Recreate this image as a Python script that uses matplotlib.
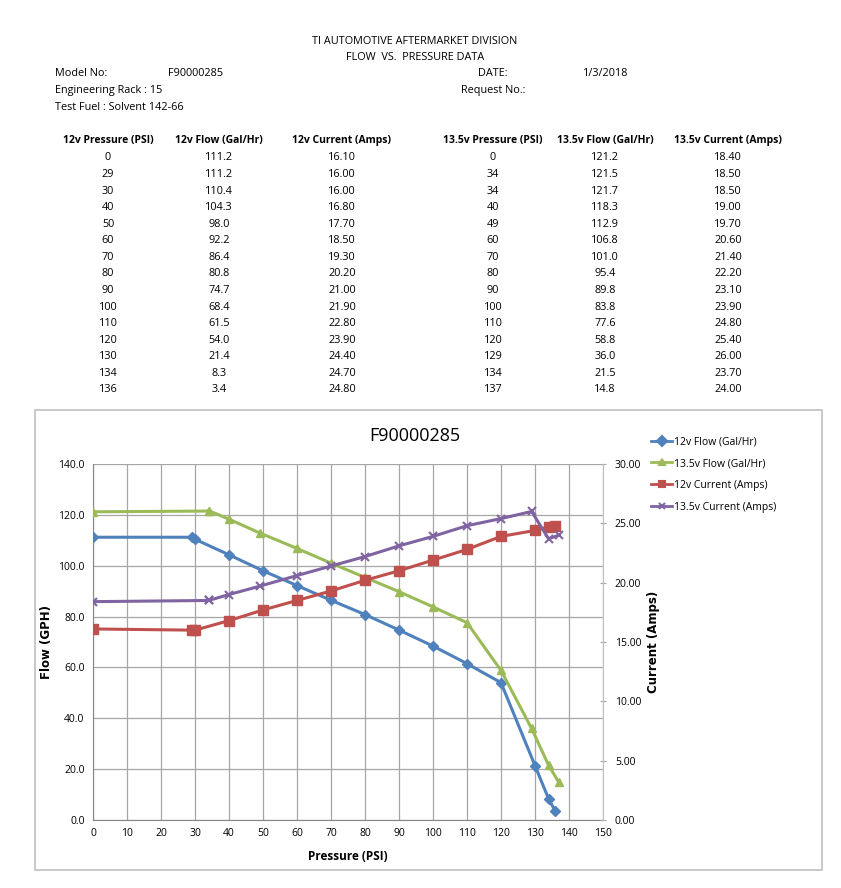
import matplotlib
matplotlib.use("Agg")
import matplotlib.pyplot as plt
from matplotlib.patches import Rectangle
from matplotlib.lines import Line2D

W, H = 841, 888
FONT = ["Open Sans", "DejaVu Sans"]
plt.rcParams['font.family'] = FONT

# ---------------- data ----------------
p12 = [0, 29, 30, 40, 50, 60, 70, 80, 90, 100, 110, 120, 130, 134, 136]
flow12 = [111.2, 111.2, 110.4, 104.3, 98.0, 92.2, 86.4, 80.8, 74.7, 68.4, 61.5, 54.0, 21.4, 8.3, 3.4]
cur12 = [16.10, 16.00, 16.00, 16.80, 17.70, 18.50, 19.30, 20.20, 21.00, 21.90, 22.80, 23.90, 24.40, 24.70, 24.80]
p135 = [0, 34, 34, 40, 49, 60, 70, 80, 90, 100, 110, 120, 129, 134, 137]
flow135 = [121.2, 121.5, 121.7, 118.3, 112.9, 106.8, 101.0, 95.4, 89.8, 83.8, 77.6, 58.8, 36.0, 21.5, 14.8]
cur135 = [18.40, 18.50, 18.50, 19.00, 19.70, 20.60, 21.40, 22.20, 23.10, 23.90, 24.80, 25.40, 26.00, 23.70, 24.00]

col_headers = ["12v Pressure (PSI)", "12v Flow (Gal/Hr)", "12v Current (Amps)",
               "13.5v Pressure (PSI)", "13.5v Flow (Gal/Hr)", "13.5v Current (Amps)"]
series_names = ["12v Flow (Gal/Hr)", "13.5v Flow (Gal/Hr)", "12v Current (Amps)", "13.5v Current (Amps)"]
colors = ["#4F81BD", "#9BBB59", "#C0504D", "#8064A2"]
markers = ["D", "^", "s", "x"]

fig = plt.figure(figsize=(W / 100, H / 100), dpi=100)
fig.patch.set_facecolor("white")

def P(x, y):
    return x / W, 1 - y / H

def T(x, y, s, ha="left", size=7.8, weight="normal", **kw):
    fig.text(*P(x, y), s, ha=ha, va="center", fontsize=size, fontweight=weight, **kw)

# ---------------- header ----------------
T(415, 41, "TI AUTOMOTIVE AFTERMARKET DIVISION", ha="center")
T(415, 58, "FLOW  VS.  PRESSURE DATA", ha="center")
T(55, 74, "Model No:")
T(168, 74, "F90000285")
T(478, 74, "DATE:")
T(583, 74, "1/3/2018")
T(55, 91, "Engineering Rack : 15")
T(461, 91, "Request No.:")
T(55, 108, "Test Fuel : Solvent 142-66")

# ---------------- table ----------------
col_x = [108, 219, 342, 493, 605, 728]
for cx, h in zip(col_x, col_headers):
    T(cx, 141, h, ha="center", weight="bold", size=7.5)
cols = [
    [f"{v:g}" for v in p12], [f"{v:.1f}" for v in flow12], [f"{v:.2f}" for v in cur12],
    [f"{v:g}" for v in p135], [f"{v:.1f}" for v in flow135], [f"{v:.2f}" for v in cur135],
]
for cx, vals in zip(col_x, cols):
    for i, s in enumerate(vals):
        T(cx, 158 + i * 16.57, s, ha="center")

# ---------------- chart frame ----------------
fig.patches.append(Rectangle(P(35, 870), 787 / W, 460 / H, transform=fig.transFigure,
                             fill=False, edgecolor="#BFBFBF", lw=1.2))

left, right = 93 / W, 603 / W
bottom, top = 1 - 820 / H, 1 - 464 / H
ax = fig.add_axes([left, bottom, right - left, top - bottom])
ax2 = ax.twinx()

ax.set_xlim(0, 150)
ax.set_ylim(0, 140)
ax2.set_ylim(0, 30)
ax.set_xticks(range(0, 151, 10))
ax.set_yticks(range(0, 141, 20))
ax.set_yticklabels([f"{v:.1f}" for v in range(0, 141, 20)])
ax2.set_yticks(range(0, 31, 5))
ax2.set_yticklabels([f"{v:.2f}" for v in range(0, 31, 5)])
ax.grid(True, color="#A6A6A6", lw=0.9)
ax.set_axisbelow(True)
for a in (ax, ax2):
    for s in a.spines.values():
        s.set_visible(False)
ax.spines["left"].set_visible(True)
ax.spines["bottom"].set_visible(True)
ax.spines["left"].set_color("#868686")
ax.spines["bottom"].set_color("#868686")
ax2.spines["right"].set_visible(True)
ax2.spines["right"].set_color("#BFBFBF")
ax.tick_params(axis="both", length=0, labelsize=7.5, pad=6)
ax2.tick_params(axis="y", direction="inout", length=5, color="#A6A6A6", labelsize=7.5, pad=6)

lw = 2.2
ax.plot(p12, flow12, color=colors[0], marker=markers[0], lw=lw, ms=5, zorder=3)
ax.plot(p135, flow135, color=colors[1], marker=markers[1], lw=lw, ms=6, zorder=3)
ax2.plot(p12, cur12, color=colors[2], marker=markers[2], lw=lw, ms=7, zorder=3)
ax2.plot(p135, cur135, color=colors[3], marker=markers[3], lw=lw, ms=6, mew=1.5, zorder=3)

ax.set_xlabel("Pressure (PSI)", fontsize=8.5, fontweight="bold", labelpad=8)
ax.set_ylabel("Flow (GPH)", fontsize=8.5, fontweight="bold", family="DejaVu Sans", labelpad=4)
ax2.set_ylabel("Current (Amps)", fontsize=8.5, fontweight="bold", family="DejaVu Sans", labelpad=4)

T(415, 436, "F90000285", ha="center", size=13)

# legend
handles = [Line2D([], [], color=c, marker=m, lw=2, ms=5, mew=1.5) for c, m in zip(colors, markers)]
fig.legend(handles, series_names, loc="upper left", bbox_to_anchor=P(647, 432),
           frameon=False, fontsize=7.5, handlelength=2.0, handletextpad=0.2,
           labelspacing=1.05, borderaxespad=0)

fig.savefig("out.png", dpi=100, facecolor="white")
